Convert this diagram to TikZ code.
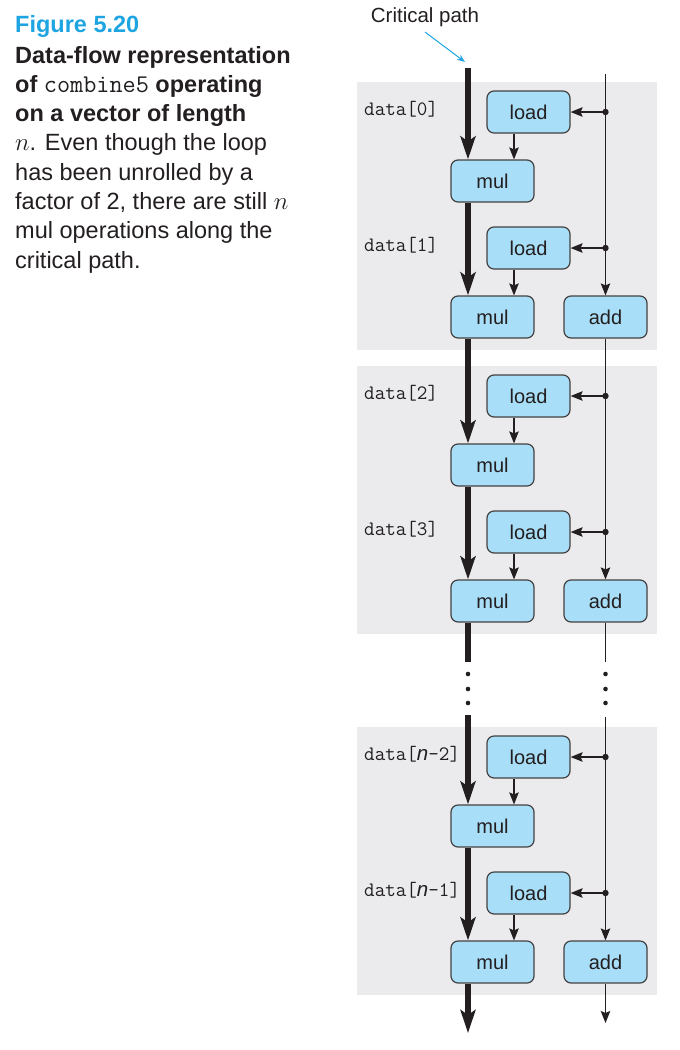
\documentclass[tikz,border=0pt]{standalone}
\usepackage{fontspec}
\setmainfont{Liberation Sans}
\usetikzlibrary{arrows.meta}
\definecolor{figblue}{RGB}{30,165,225}
\definecolor{boxfill}{RGB}{168,222,247}
\definecolor{panelgray}{RGB}{235,235,238}
\definecolor{ink}{RGB}{35,31,32}
\newcommand\nvar{{\rmfamily\itshape n}}
\newcommand\capfont{\fontsize{23.5}{29}\selectfont}
\begin{document}
\begin{tikzpicture}[x=1pt,y=-1pt,
  opbox/.style={draw=ink!85, line width=1.2pt, fill=boxfill, rounded corners=7pt,
    minimum width=83pt, minimum height=42pt, inner sep=0pt,
    font=\fontsize{20}{21}\selectfont, text=ink},
  datalabel/.style={inner sep=0pt, anchor=base west, text=ink,
    font=\fontsize{20.5}{21}\selectfont\ttfamily},
  capline/.style={inner sep=0pt, anchor=base west, text=ink, font=\capfont},
  critline/.style={line width=5.5pt, draw=ink},
  critarrow/.style={critline, -{Stealth[length=23pt,width=15pt,inset=5pt]}},
  thinline/.style={line width=1.4pt, draw=ink},
  thinarrow/.style={thinline, -{Stealth[length=12pt,width=9.5pt,inset=2pt]}},
  dotmark/.style={fill=ink}
]
\useasboundingbox (0,0) rectangle (680,1050);

% caption
\node[capline, text=figblue, font=\capfont\bfseries] (c0) at (15,32) {Figure 5.20};
\node[capline, font=\capfont\bfseries] (c1) at (15,63) {Data-flow representation};
\node[capline, font=\capfont\bfseries] (c2) at (15,92) {of {\mdseries\fontsize{25.5}{29}\selectfont\ttfamily combine5} operating};
\node[capline, font=\capfont\bfseries] (c3) at (15,121) {on a vector of length};
\node[capline] (c4) at (15,150) {$n$. Even though the loop};
\node[capline] (c5) at (15,180) {has been unrolled by a};
\node[capline] (c6) at (15,209) {factor of 2, there are still $n$};
\node[capline] (c7) at (15,238) {mul operations along the};
\node[capline] (c8) at (15,268) {critical path.};

% panels
\fill[panelgray] (357,82) rectangle (657,350);
\fill[panelgray] (357,366) rectangle (657,634);
\fill[panelgray] (357,727) rectangle (657,995);

\coordinate (cx) at (468,0);
\coordinate (lx) at (514,0);

\foreach \p/\o/\da/\db in {1/82/0/1, 2/366/2/3, 3/727/{\nvar-2}/{\nvar-1}}{
  \node[opbox] (L\p-a) at (528.5,\o+30) {load};
  \node[opbox] (M\p-a) at (492.5,\o+99) {mul};
  \node[opbox] (L\p-b) at (528.5,\o+166) {load};
  \node[opbox] (M\p-b) at (492.5,\o+235) {mul};
  \node[opbox] (A\p) at (605.5,\o+235) {add};
  \node[datalabel] (D\p-a) at (364,\o+33.5) {data[\da]};
  \node[datalabel] (D\p-b) at (364,\o+169.5) {data[\db]};
  \coordinate (J\p-a) at (605.5,\o+30);
  \coordinate (J\p-b) at (605.5,\o+166);
  \draw[thinarrow] (J\p-a) -- (L\p-a.east);
  \draw[thinarrow] (J\p-b) -- (L\p-b.east);
  \fill[dotmark] (J\p-a) circle (3.2pt);
  \fill[dotmark] (J\p-b) circle (3.2pt);
  \draw[thinarrow] (L\p-a.south -| lx) -- (M\p-a.north -| lx);
  \draw[thinarrow] (L\p-b.south -| lx) -- (M\p-b.north -| lx);
  \draw[critarrow] (M\p-a.south -| cx) -- (M\p-b.north -| cx);
}

% critical path
\coordinate (CT) at (468,68);
\coordinate (CB1) at (468,662);
\coordinate (CB2) at (468,715);
\coordinate (CE) at (468,1033);
\draw[critarrow] (CT) -- (CT |- M1-a.north);
\draw[critarrow] (M1-b.south -| cx) -- (M2-a.north -| cx);
\draw[critline] (M2-b.south -| cx) -- (CB1);
\draw[critarrow] (CB2) -- (M3-a.north -| cx);
\draw[critarrow] (M3-b.south -| cx) -- (CE);

% accumulator line
\coordinate (RT) at (605.5,74);
\coordinate (RB1) at (605.5,662);
\coordinate (RB2) at (605.5,717);
\coordinate (RE) at (605.5,1023);
\draw[thinarrow] (RT) -- (A1.north);
\draw[thinarrow] (A1.south) -- (A2.north);
\draw[thinline] (A2.south) -- (RB1);
\draw[thinarrow] (RB2) -- (A3.north);
\draw[thinarrow] (A3.south) -- (RE);

% ellipsis dots
\foreach \y in {674,689,703}{
  \fill[dotmark] (468,\y) circle (2.3pt);
  \fill[dotmark] (605.5,\y) circle (2.3pt);
}

% critical path label
\node[text=ink, font=\fontsize{20.5}{22}\selectfont, inner sep=0pt] (cpl) at (425,17.5) {Critical path};
\coordinate (cpend) at (465,62);
\draw[figblue, line width=1pt, -{Stealth[length=8pt,width=6pt]}] (425,32) -- (cpend);
\end{tikzpicture}
\end{document}
